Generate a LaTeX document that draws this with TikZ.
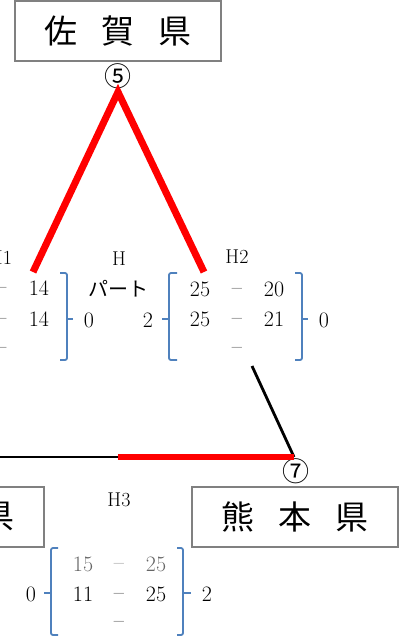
\documentclass[tikz,border=0pt]{standalone}
\usepackage{fontspec}
\newfontfamily\jpfont{Noto Sans CJK JP}
\definecolor{brk}{RGB}{79,129,189}
\definecolor{boxgray}{RGB}{128,128,128}
\tikzset{
  pref/.style={draw=boxgray, line width=2pt, minimum width=206pt, minimum height=60pt,
    inner sep=0pt, font=\jpfont\fontsize{33}{33}\selectfont},
  circnum/.style={inner sep=0pt, font=\jpfont\fontsize{27}{27}\selectfont},
  score/.style={inner sep=0pt, text height=14.2pt, text depth=0pt, font=\fontsize{22}{22}\selectfont},
  court/.style={inner sep=0pt, font=\fontsize{20}{20}\selectfont},
  win/.style={red, line width=7pt},
  lose/.style={black, line width=2.8pt},
  brace/.style={brk, line width=1.8pt, rounded corners=2pt},
}
\newcommand\gap{\hspace{0.72em}}
\newcommand\sdash{\raisebox{1.6pt}{--}}
\begin{document}
\begin{tikzpicture}[x=1pt,y=-1pt]
    \useasboundingbox (0,0) rectangle (399,638);

    \node[pref] (saga) at (118,31) {佐\gap 賀\gap 県};
    \node[pref] (kuma) at (295,517) {熊\gap 本\gap 県};
    \node[pref] (prev) at (-59,517) {\phantom{県}\gap\phantom{県}\gap 県};
    \node[circnum] (n5) at (118,76) {⑤};
    \node[circnum] (n7) at (296,471) {⑦};

    \coordinate (top) at (118,92);
    \coordinate (h1end) at (33,272);
    \coordinate (h2end) at (204,272);
    \coordinate (h2low) at (252,366);
    \coordinate (kp) at (294,457);
    \coordinate (h3mid) at (118,457);
    \coordinate (edge) at (0,457);

    \draw[win,line join=miter] (h1end) -- (top) -- (h2end);
    \draw[lose] (h2low) -- (kp);
    \draw[lose] (edge) -- (h3mid);
    \draw[win,line width=6pt] (h3mid) -- (kp);

    \begin{scope}
        \node[court] (c1) at (0.5,258) {H1};
        \node[score] (a1) at (1.5,288) {\sdash};
        \node[score] (a2) at (1.5,319) {\sdash};
        \node[score] (a3) at (1.5,348) {\sdash};
        \node[score] (s11) at (39,288) {14};
        \node[score] (s12) at (39,319) {14};
        \draw[brace] (60,273) -- (67,273) -- (67,360) -- (60,360);
        \draw[brace] (67,319) -- (73,319);
        \node[score] (r1) at (89,320) {0};
    \end{scope}

    \begin{scope}
        \node[court] (c0) at (119,259) {H};
        \node[inner sep=0pt, font=\jpfont\fontsize{20}{20}\selectfont] (part) at (118,289) {パート};
        \node[score] (l2) at (148,320) {2};
        \draw[brace] (177,273) -- (169,273) -- (169,360) -- (177,360);
        \draw[brace] (169,319) -- (162,319);
        \node[court] (c2) at (237,257) {H2};
        \node[score] (s21) at (200,289) {25};
        \node[score] (d21) at (237,289) {\sdash};
        \node[score] (t21) at (274,289) {20};
        \node[score] (s22) at (200,319) {25};
        \node[score] (d22) at (237,319) {\sdash};
        \node[score] (t22) at (274,319) {21};
        \node[score] (d23) at (237,348) {\sdash};
        \draw[brace] (295,273) -- (302,273) -- (302,360) -- (295,360);
        \draw[brace] (302,319) -- (308,319);
        \node[score] (r2) at (324,320) {0};
    \end{scope}

    \begin{scope}
        \node[court] (c3) at (119,500) {H3};
        \node[score] (l3) at (31,594) {0};
        \draw[brace] (58,548) -- (51,548) -- (51,635) -- (58,635);
        \draw[brace] (51,593) -- (44,593);
        \node[score,black!60] (s31) at (83,564) {15};
        \node[score,black!60] (d31) at (119,564) {\sdash};
        \node[score,black!60] (t31) at (156,564) {25};
        \node[score] (s32) at (83,594) {11};
        \node[score] (d32) at (119,594) {\sdash};
        \node[score] (t32) at (156,594) {25};
        \node[score] (d33) at (119,622) {\sdash};
        \draw[brace] (177,548) -- (183,548) -- (183,635) -- (177,635);
        \draw[brace] (183,593) -- (191,593);
        \node[score] (r3) at (207,594) {2};
    \end{scope}
\end{tikzpicture}
\end{document}
